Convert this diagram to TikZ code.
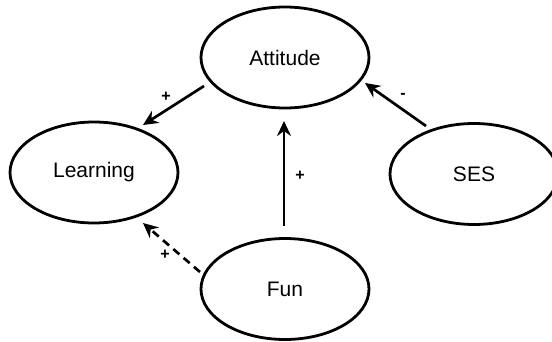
\documentclass[tikz,border=0pt]{standalone}
\usepackage{fontspec}
\setmainfont{Liberation Sans}
\usetikzlibrary{shapes.geometric,arrows.meta}

\begin{document}
\begin{tikzpicture}[x=0.5pt,y=-0.5pt,
  var/.style={ellipse,draw,line width=1.4pt,inner sep=0pt,
    minimum width=84pt,minimum height=50.5pt,
    font=\fontsize{10.5}{12}\selectfont},
  link/.style={line width=1.35pt,-{Stealth[length=7.5pt,width=7pt,inset=2.5pt]}},
  weak/.style={link,dash pattern=on 4pt off 2.8pt},
  sign/.style={font=\bfseries\fontsize{8}{9}\selectfont,inner sep=0pt}]
  \useasboundingbox (0,0) rectangle (552,342);

  % variables
  \node[var] (att)   at (285,57.5)  {Attitude};
  \node[var] (learn) at (94,172.5)  {Learning};
  \node[var] (ses)   at (474,174)   {SES};
  \node[var] (fun)   at (285,289)   {Fun};

  % effects
  \draw[link] ([shift={(-81,28.5)}]att.center) -- ([shift={(49,-47.5)}]learn.center);
  \draw[link] ([shift={(-1,-63)}]fun.center) -- ([shift={(-1,63.5)}]att.center);
  \draw[link] ([shift={(-48,-48)}]ses.center) -- ([shift={(80,25.5)}]att.center);
  \draw[weak] ([shift={(-85,-17)}]fun.center) -- ([shift={(49,50.5)}]learn.center);

  % signs of the effects
  \node[sign] (s1) at (166,97)  {+};
  \node[sign] (s2) at (300,176) {+};
  \node[sign] (s3) at (403,96)  {-};
  \node[sign] (s4) at (165,255) {+};
\end{tikzpicture}
\end{document}
